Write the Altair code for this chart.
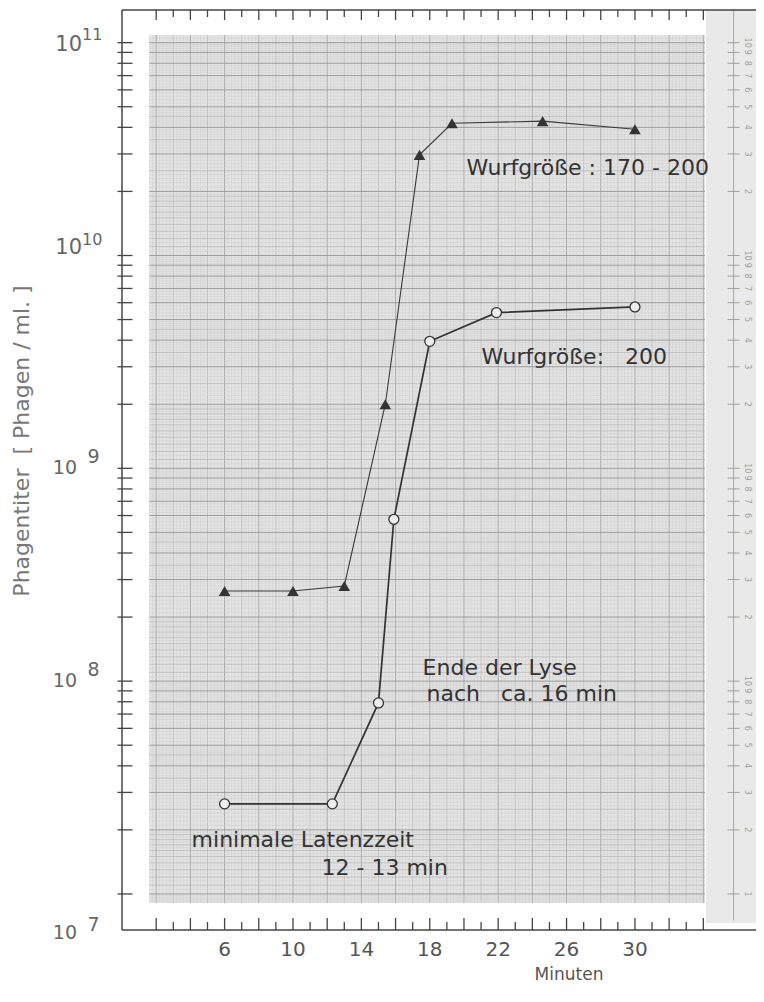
import altair as alt
import pandas as pd

# ---------------- data ----------------
tri_min = [6, 10, 13, 15.4, 17.4, 19.3, 24.6, 30]
tri_titer = [2.65e8, 2.65e8, 2.8e8, 2.0e9, 2.97e10, 4.18e10, 4.28e10, 3.92e10]

circ_min = [6, 12.3, 15, 15.9, 18, 21.9, 30]
circ_titer = [2.65e7, 2.65e7, 7.9e7, 5.76e8, 3.95e9, 5.39e9, 5.73e9]

x_labels = [6, 10, 14, 18, 22, 26, 30]
decades = [1e7, 1e8, 1e9, 1e10, 1e11]
exponents = ["7", "8", "9", "10", "11"]

NB = "\u00a0"
ann_text = ["Wurfgröße : 170 - 200", "Wurfgröße:" + NB * 3 + "200", "Ende der Lyse",
            "nach" + NB * 3 + "ca. 16 min", "minimale Latenzzeit", "12 - 13 min"]
ann_min = [20.15, 21.03, 17.58, 17.81, 4.07, 11.67]
ann_titer = [2.58e10, 3.33e9, 1.15e8, 8.69e7, 1.79e7, 1.32e7]

x_title = "Minuten"
y_title = "Phagentiter" + NB * 2 + "[" + NB + "Phagen" + NB + "/" + NB + "ml." + NB + "]"

# ---------------- layout ----------------
W, H = 634, 920
X_MAX = 37.08
Y_MIN, Y_MAX = 6.77e6, 1.424e11
GRID_X = [1.61, 34.1]
GRID_Y = [9.06e6, 1.087e11]
STRIP_X = [34.15, X_MAX]
STRIP_Y = [7.3e6, Y_MAX]
FONT = "DejaVu Sans"
AX = "#444"

xs = alt.Scale(domain=[0, X_MAX], nice=False, zero=False)
ys = alt.Scale(type="log", domain=[Y_MIN, Y_MAX], nice=False)


def X(f):
    return alt.X(f, type="quantitative", scale=xs, axis=None, title=None)


def Y(f):
    return alt.Y(f, type="quantitative", scale=ys, axis=None, title=None)


# ---------------- log-paper background ----------------
bg = alt.Chart(pd.DataFrame({"x0": [GRID_X[0]], "x1": [GRID_X[1]],
                             "y0": [GRID_Y[0]], "y1": [GRID_Y[1]]})).mark_rect(
    color="#e4e4e4").encode(x=X("x0"), x2="x1", y=Y("y0"), y2="y1")

strip = alt.Chart(pd.DataFrame({"x0": [STRIP_X[0]], "x1": [STRIP_X[1]],
                                "y0": [STRIP_Y[0]], "y1": [STRIP_Y[1]]})).mark_rect(
    color="#e9e9e9").encode(x=X("x0"), x2="x1", y=Y("y0"), y2="y1")

vx = [round(1.6 + 0.2 * i, 1) for i in range(163)]
v_minor = [v for v in vx if abs(v - round(v)) > 1e-6]
v_mid = [v for v in vx if abs(v - round(v)) < 1e-6 and round(v) % 2 == 1]
v_major = [v for v in vx if abs(v - round(v)) < 1e-6 and round(v) % 2 == 0]


def vgrid(vals, color, width):
    df = pd.DataFrame({"m": vals, "y0": GRID_Y[0], "y1": GRID_Y[1]})
    return alt.Chart(df).mark_rule(color=color, strokeWidth=width).encode(
        x=X("m"), y=Y("y0"), y2="y1")


mant = ([round(1 + 0.05 * i, 2) for i in range(20)] +
        [round(2 + 0.1 * i, 1) for i in range(30)] +
        [round(5 + 0.2 * i, 1) for i in range(25)])
h_minor, h_mid, h_major = [], [], []
for d in range(6, 12):
    for m in mant:
        v = m * 10 ** d
        if GRID_Y[0] <= v <= GRID_Y[1]:
            if abs(m - round(m)) < 1e-9:
                h_major.append(v)
            elif abs(m * 2 - round(m * 2)) < 1e-9 or (m < 2 and abs(m * 10 - round(m * 10)) < 1e-9):
                h_mid.append(v)
            else:
                h_minor.append(v)


def hgrid(vals, color, width):
    df = pd.DataFrame({"v": vals, "x0": GRID_X[0], "x1": GRID_X[1]})
    return alt.Chart(df).mark_rule(color=color, strokeWidth=width).encode(
        y=Y("v"), x=X("x0"), x2="x1")


# right strip scale of the paper
strip_line = alt.Chart(pd.DataFrame({"m": [35.77], "y0": [7.5e6], "y1": [Y_MAX]})).mark_rule(
    color="#a8a8a8", strokeWidth=1).encode(x=X("m"), y=Y("y0"), y2="y1")
s_vals, s_txt = [], []
for d in range(7, 11):
    for k in range(2, 11):
        s_vals.append(k * 10 ** d)
        s_txt.append(str(k))
s_vals.append(1e7)
s_txt.append("1")
strip_ticks = alt.Chart(pd.DataFrame({"v": s_vals, "x0": 35.42, "x1": 36.12})).mark_rule(
    color="#a0a0a0", strokeWidth=1).encode(y=Y("v"), x=X("x0"), x2="x1")
strip_lbl = alt.Chart(pd.DataFrame({"v": s_vals, "t": s_txt, "m": 36.55})).mark_text(
    angle=90, fontSize=8, color="#a0a0a0", font=FONT, baseline="middle", align="center").encode(
    x=X("m"), y=Y("v"), text="t:N")

# ---------------- axes frame, ticks and labels ----------------
one = pd.DataFrame({"a": [0]})
top_line = alt.Chart(one).mark_rule(color=AX, strokeWidth=1.5).encode(
    x=alt.value(0), x2=alt.value(W), y=alt.value(0))
bottom_line = alt.Chart(one).mark_rule(color=AX, strokeWidth=1.5).encode(
    x=alt.value(0), x2=alt.value(W), y=alt.value(H))
left_line = alt.Chart(one).mark_rule(color=AX, strokeWidth=1.5).encode(
    x=alt.value(0), y=alt.value(0), y2=alt.value(H))

even_t = list(range(2, 35, 2))
odd_t = list(range(3, 34, 2))


def xticks(vals, y_a, y_b):
    return alt.Chart(pd.DataFrame({"m": vals})).mark_rule(color=AX, strokeWidth=1.3).encode(
        x=X("m"), y=alt.value(y_a), y2=alt.value(y_b))


ytick_vals = [k * 10 ** d for d in range(7, 11) for k in range(1, 10)] + [1e11]
yticks = alt.Chart(pd.DataFrame({"v": ytick_vals})).mark_rule(color=AX, strokeWidth=1.3).encode(
    y=Y("v"), x=alt.value(-4.5), x2=alt.value(10.5))

x_lbl = alt.Chart(pd.DataFrame({"m": x_labels})).mark_text(
    align="center", baseline="middle", fontSize=20, color="#555", font=FONT).encode(
    x=X("m"), y=alt.value(H + 20), text="m:N")

x_ttl = alt.Chart(pd.DataFrame({"t": [x_title]})).mark_text(
    align="center", baseline="top", fontSize=17, color="#555", font=FONT).encode(
    x=alt.value(447), y=alt.value(H + 37), text="t:N")

y_ttl = alt.Chart(pd.DataFrame({"t": [y_title]})).mark_text(
    align="center", baseline="middle", fontSize=22, color="#777", font=FONT, angle=270).encode(
    x=alt.value(-100), y=alt.value(431), text="t:N")

# y labels "10" + exponent, drawn through the y scale
lab_df = pd.DataFrame({"v": decades, "e": exponents, "b": "10"})
# (dy of base, dy of exponent, two-digit exponent?)
lab_style = {"11": (2, -8, True), "10": (-7, -15, True),
             "9": (0, -11, False), "8": (0, -11, False), "7": (39, 31, False)}
lab_layers = []
for e, (dy_b, dy_e, two) in lab_style.items():
    sub = alt.Chart(lab_df).transform_filter(alt.datum.e == e)
    if two:
        lab_layers.append(sub.mark_text(align="right", baseline="middle", fontSize=21,
                                        color="#666", font=FONT, dy=dy_b).encode(
            y=Y("v"), x=alt.value(-40), text="b:N"))
        lab_layers.append(sub.mark_text(align="left", baseline="middle", fontSize=16,
                                        color="#666", font=FONT, dy=dy_e).encode(
            y=Y("v"), x=alt.value(-40), text="e:N"))
    else:
        lab_layers.append(sub.mark_text(align="right", baseline="middle", fontSize=19,
                                        color="#666", font=FONT, dy=dy_b).encode(
            y=Y("v"), x=alt.value(-45), text="b:N"))
        lab_layers.append(sub.mark_text(align="right", baseline="middle", fontSize=19,
                                        color="#666", font=FONT, dy=dy_e).encode(
            y=Y("v"), x=alt.value(-22.4), text="e:N"))

# ---------------- series ----------------
df_tri = pd.DataFrame({"m": tri_min, "v": tri_titer})
df_c = pd.DataFrame({"m": circ_min, "v": circ_titer})

line_c = alt.Chart(df_c).mark_line(color="#333", strokeWidth=1.7).encode(x=X("m"), y=Y("v"))
pts_c = alt.Chart(df_c).mark_point(shape="circle", filled=True, fill="#ededed", stroke="#333",
                                   strokeWidth=1.3, size=100, opacity=1).encode(x=X("m"), y=Y("v"))
line_t = alt.Chart(df_tri).mark_line(color="#3a3a3a", strokeWidth=1.1).encode(x=X("m"), y=Y("v"))
pts_t = alt.Chart(df_tri).mark_point(shape="triangle-up", filled=True, color="#333",
                                     size=135, opacity=1).encode(x=X("m"), y=Y("v"))

ann = alt.Chart(pd.DataFrame({"m": ann_min, "v": ann_titer, "t": ann_text})).mark_text(
    align="left", baseline="middle", fontSize=22, color="#333", font=FONT).encode(
    x=X("m"), y=Y("v"), text="t:N")

layers = [bg, strip,
          vgrid(v_minor, "#cfcfcf", 0.5), vgrid(v_mid, "#b4b4b4", 0.7), vgrid(v_major, "#a2a2a2", 0.9),
          hgrid(h_minor, "#cfcfcf", 0.5), hgrid(h_mid, "#b4b4b4", 0.7), hgrid(h_major, "#9c9c9c", 1.0),
          strip_line, strip_ticks, strip_lbl,
          line_c, line_t, pts_c, pts_t, ann,
          top_line, bottom_line, left_line,
          xticks(even_t, H, H - 12), xticks(odd_t, H, H - 8),
          xticks(even_t, 0, 10), xticks(odd_t, 0, 7), yticks,
          x_lbl, x_ttl, y_ttl] + lab_layers

chart = alt.layer(*layers).properties(
    width=W, height=H,
    padding={"left": 114, "top": 2, "right": 0, "bottom": 58},
    autosize=alt.AutoSizeParams(type="none"),
    background="white",
).configure_view(stroke=None)

chart.save("out.html", embed_options={"renderer": "svg", "actions": False})
